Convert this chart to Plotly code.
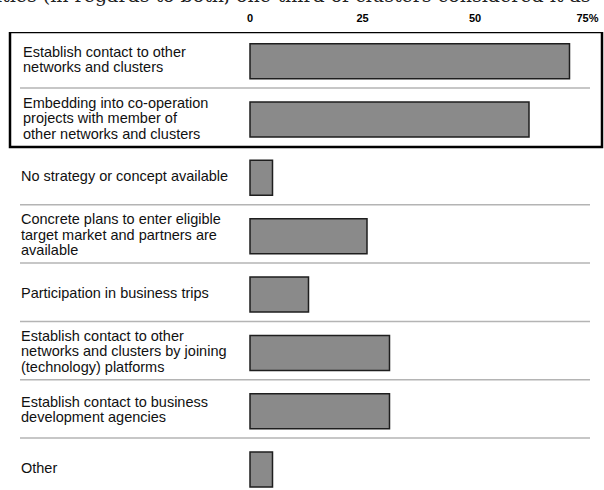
import plotly.graph_objects as go

categories = [
    "Establish contact to other<br>networks and clusters",
    "Embedding into co-operation<br>projects with member of<br>other networks and clusters",
    "No strategy or concept available",
    "Concrete plans to enter eligible<br>target market and partners are<br>available",
    "Participation in business trips",
    "Establish contact to other<br>networks and clusters by joining<br>(technology) platforms",
    "Establish contact to business<br>development agencies",
    "Other",
]
values = [71, 62, 5, 26, 13, 31, 31, 5]
tick_vals = [0, 25, 50, 75]
tick_text = ["0", "25", "50", "75%"]
highlighted = [0, 1]
header_text = "ities (in regards to both, one-third of clusters considered it as"

W, H = 604, 490
TOP = 32
zero_px, px_per = 250, 4.5
LINE = 15.5

fig = go.Figure(go.Bar(
    x=values, y=list(range(len(categories))), orientation="h", width=0.6,
    marker=dict(color="#8a8a8a", line=dict(color="#1e1e1e", width=1.5)),
    hoverinfo="skip",
))

shapes = []
for i in range(len(categories) - 1):
    if i == highlighted[-1]:
        continue
    shapes.append(dict(type="line", xref="paper", yref="y",
                       x0=20 / W, x1=590 / W, y0=i + 0.46, y1=i + 0.46,
                       line=dict(color="#b4b4b4", width=1.5), layer="below"))
shapes.append(dict(type="rect", xref="paper", yref="y",
                   x0=10 / W, x1=602 / W, y0=highlighted[0] - 0.5, y1=highlighted[-1] + 0.47,
                   line=dict(color="#000000", width=2.5), fillcolor="rgba(0,0,0,0)"))

annotations = []
for i, cat in enumerate(categories):
    lines = cat.split("<br>")
    n = len(lines)
    x0 = (20.5 if i in highlighted else 18.5) / W
    for k, ln in enumerate(lines):
        annotations.append(dict(
            text=ln, xref="paper", yref="y", x=x0, y=i,
            xanchor="left", yanchor="middle", align="left",
            yshift=-(k - (n - 1) / 2) * LINE + 1.5, showarrow=False,
            font=dict(family="Liberation Sans", size=14.5, color="#111"),
        ))
annotations.append(dict(
    text=header_text, xref="paper", yref="paper", x=593 / W, y=1,
    xanchor="right", yanchor="bottom", yshift=TOP - 8, showarrow=False,
    font=dict(family="DejaVu Serif", size=19, color="#222"),
))

fig.update_layout(
    width=W, height=H,
    margin=dict(l=0, r=0, t=TOP, b=0),
    paper_bgcolor="white", plot_bgcolor="white",
    showlegend=False,
    shapes=shapes,
    annotations=annotations,
    xaxis=dict(
        range=[(0 - zero_px) / px_per, (W - zero_px) / px_per],
        side="top", tickvals=tick_vals, ticktext=tick_text,
        tickfont=dict(family="Liberation Sans", size=11, color="#000", weight="bold"),
        ticklabelstandoff=7,
        showgrid=False, zeroline=False, showline=False, ticks="",
        fixedrange=True,
    ),
    yaxis=dict(
        tickvals=list(range(len(categories))),
        range=[7.35, -0.5], showticklabels=False,
        showgrid=False, zeroline=False, showline=False, ticks="",
        fixedrange=True,
    ),
)

fig.write_html("out.html", config={"displayModeBar": False},
               post_script="document.body.style.margin='0px';")
